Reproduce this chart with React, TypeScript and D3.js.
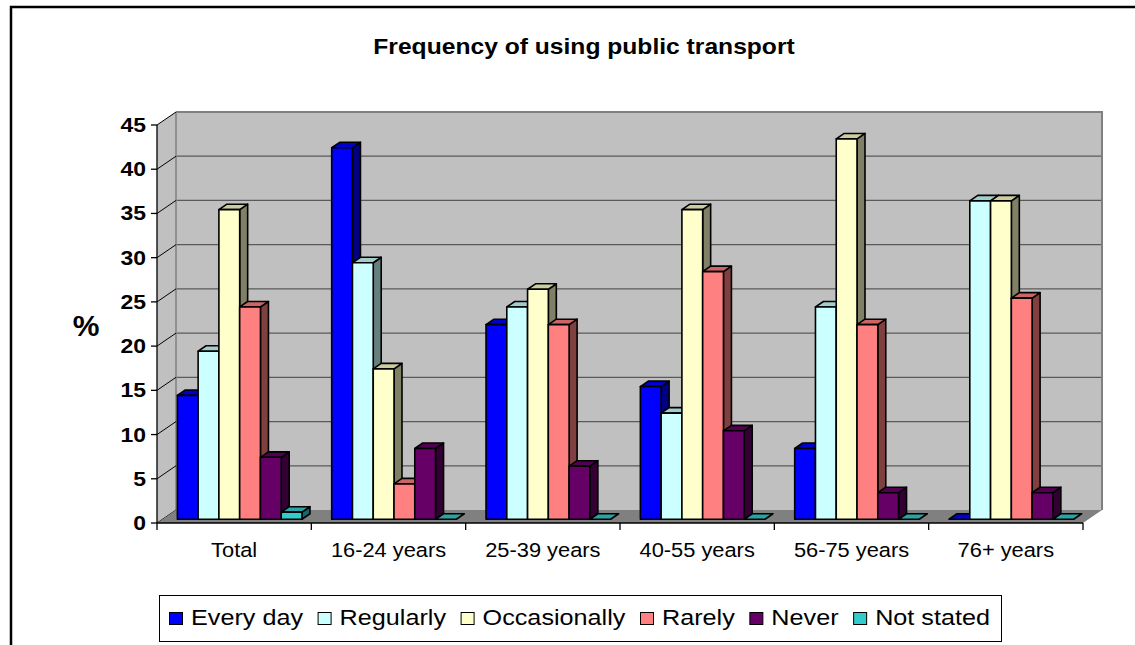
import React from 'react';
import * as d3 from 'd3';

const categories = ['Total', '16-24 years', '25-39 years', '40-55 years', '56-75 years', '76+ years'];
const seriesNames = ['Every day', 'Regularly', 'Occasionally', 'Rarely', 'Never', 'Not stated'];
const everyDay = [14, 42, 22, 15, 8, 0];
const regularly = [19, 29, 24, 12, 24, 36];
const occasionally = [35, 17, 26, 35, 43, 36];
const rarely = [24, 4, 22, 28, 22, 25];
const never = [7, 8, 6, 10, 3, 3];
const notStated = [0.8, 0, 0, 0, 0, 0];
const yTicks = [0, 5, 10, 15, 20, 25, 30, 35, 40, 45];
const title = 'Frequency of using public transport';
const yTitle = '%';

const seriesValues = [everyDay, regularly, occasionally, rarely, never, notStated];
const frontColors = ['#0000FF', '#CCFFFF', '#FFFFCC', '#FF8080', '#660066', '#33CCCC'];
const topColors = ['#0000CC', '#A3CCCC', '#CCCCA3', '#CC6666', '#520052', '#29A3A3'];
const sideColors = ['#000080', '#668080', '#808066', '#804040', '#330033', '#1A6666'];

const FONT = '"Liberation Sans", Arial, Helvetica, sans-serif';
const SX = 1.12;

function measure(text: string, size: number, weight = 'normal') {
  const c = document.createElement('canvas');
  const ctx = c.getContext('2d');
  if (!ctx) return text.length * size * 0.5;
  ctx.font = `${weight} ${size}px ${FONT}`;
  return ctx.measureText(text).width;
}

function SText(props: { x: number; y: number; anchor?: string; size: number; weight?: string; children: string }) {
  const { x, y, anchor = 'start', size, weight = 'normal', children } = props;
  return (
    <text
      transform={`translate(${x},${y}) scale(${SX},1)`}
      textAnchor={anchor}
      fontFamily={FONT}
      fontSize={size}
      fontWeight={weight}
      fill="#000"
    >
      {children}
    </text>
  );
}

export default function App() {
  const W = 1135;
  const H = 645;
  const fx0 = 157;
  const fx1 = 1083;
  const DX = 19;
  const DY = -13;
  // bar depth placement (fraction of full depth)
  const bf0 = 0.29;
  const bf1 = 0.71;

  const y = d3.scaleLinear().domain([0, 45]).range([523, 125]);
  const x = d3.scaleBand<string>().domain(categories).range([fx0, fx1]).paddingInner(0).paddingOuter(0);
  const xs = d3.scaleBand<string>().domain(seriesNames).range([0, x.bandwidth()]).paddingInner(0).paddingOuter(0.715);

  const y0 = y(0);
  const yMax = y(45);

  const pts = (arr: number[][]) => arr.map((p) => p.join(',')).join(' ');

  const bars: JSX.Element[] = [];
  categories.forEach((cat, ci) => {
    seriesNames.forEach((s, si) => {
      const v = seriesValues[si][ci];
      const ox = DX * bf0;
      const oy = DY * bf0;
      const ddx = DX * (bf1 - bf0);
      const ddy = DY * (bf1 - bf0);
      const bx = (x(cat) as number) + (xs(s) as number) + ox;
      const w = xs.bandwidth();
      const yb = y0 + oy;
      const yt = y(v) + oy;
      const key = `${ci}-${si}`;
      bars.push(
        <g key={key} stroke="#000" strokeWidth={1.6} strokeLinejoin="round">
          {v > 0 && (
            <polygon
              points={pts([[bx + w, yt], [bx + w + ddx, yt + ddy], [bx + w + ddx, yb + ddy], [bx + w, yb]])}
              fill={sideColors[si]}
            />
          )}
          <polygon
            points={pts([[bx, yt], [bx + w, yt], [bx + w + ddx, yt + ddy], [bx + ddx, yt + ddy]])}
            fill={topColors[si]}
          />
          {v > 0 && <rect x={bx} y={yt} width={w} height={yb - yt} fill={frontColors[si]} />}
        </g>
      );
    });
  });

  // legend layout
  const legSize = 22.5;
  const swW = 13;
  const swH = 12;
  const legStart = 169;
  const legEnd = 990;
  const tw = seriesNames.map((n) => measure(n, legSize) * SX);
  const swGap = 9;
  const total = tw.reduce((a, b) => a + b, 0) + seriesNames.length * (swW + swGap);
  const itemGap = (legEnd - legStart - total) / (seriesNames.length - 1);
  let cx = legStart;
  const legendItems = seriesNames.map((n, i) => {
    const sx = cx;
    cx += swW + swGap + tw[i] + itemGap;
    return (
      <g key={n}>
        <rect x={sx + 0.5} y={612.5} width={swW} height={swH} fill={frontColors[i]} stroke="#000" strokeWidth={1} />
        <SText x={sx + swW + swGap} y={624.5} size={legSize}>
          {n}
        </SText>
      </g>
    );
  });

  return (
    <svg
      width={W}
      height={H}
      style={{ position: 'absolute', left: 0, top: 0, background: '#fff' }}
    >
      <rect x={0} y={0} width={W} height={H} fill="#fff" />
      {/* back wall */}
      <polygon
        points={pts([[fx0 + DX, yMax + DY], [fx1 + DX, yMax + DY], [fx1 + DX, y0 + DY], [fx0 + DX, y0 + DY]])}
        fill="#C0C0C0"
      />
      {/* left wall */}
      <polygon
        points={pts([[fx0, yMax], [fx0 + DX, yMax + DY], [fx0 + DX, y0 + DY], [fx0, y0]])}
        fill="#C0C0C0"
      />
      {/* grid lines on back wall */}
      {yTicks.filter((t) => t > 0).map((t) => (
        <line
          key={`g${t}`}
          x1={fx0 + DX}
          x2={fx1 + DX}
          y1={y(t) + DY}
          y2={y(t) + DY}
          stroke="#5A5A5A"
          strokeWidth={1.3}
        />
      ))}
      {/* wall edges */}
      <polyline
        points={pts([[fx0 + DX, yMax + DY], [fx1 + DX, yMax + DY], [fx1 + DX, y0 + DY]])}
        fill="none"
        stroke="#808080"
        strokeWidth={2}
      />
      <line x1={fx0 + DX} x2={fx0 + DX} y1={yMax + DY} y2={y0 + DY} stroke="#808080" strokeWidth={1.5} />
      {/* diagonal grid on left wall */}
      {yTicks.map((t) => (
        <line key={`d${t}`} x1={fx0} y1={y(t)} x2={fx0 + DX} y2={y(t) + DY} stroke="#000" strokeWidth={1} />
      ))}
      {/* floor */}
      <polygon
        points={pts([[fx0, y0], [fx1, y0], [fx1 + DX, y0 + DY], [fx0 + DX, y0 + DY]])}
        fill="#808080"
      />
      {bars}
      {/* axes */}
      <line x1={fx0} x2={fx0} y1={yMax} y2={y0} stroke="#000" strokeWidth={1.3} />
      {yTicks.map((t) => (
        <g key={`t${t}`}>
          <line x1={fx0 - 6} x2={fx0} y1={y(t)} y2={y(t)} stroke="#000" strokeWidth={1.3} />
          <SText x={146} y={y(t) + 7} anchor="end" size={20.5} weight="bold">
            {String(t)}
          </SText>
        </g>
      ))}
      <line x1={fx0} x2={fx1} y1={y0} y2={y0} stroke="#000" strokeWidth={1.3} />
      {[...categories.map((c) => x(c) as number), fx1].map((px, i) => (
        <line key={`xt${i}`} x1={px} x2={px} y1={y0} y2={y0 + 7} stroke="#000" strokeWidth={1.3} />
      ))}
      {categories.map((c) => (
        <SText key={`xl${c}`} x={(x(c) as number) + x.bandwidth() / 2} y={557} anchor="middle" size={19.5}>
          {c}
        </SText>
      ))}
      {/* titles */}
      <SText x={584} y={53.5} anchor="middle" size={22} weight="bold">
        {title}
      </SText>
      <text x={86} y={336} textAnchor="middle" fontFamily={FONT} fontSize={30} fontWeight="bold" fill="#000">
        {yTitle}
      </text>
      {/* legend */}
      <rect x={159.5} y={595.5} width={842} height={46} fill="#fff" stroke="#000" strokeWidth={1} />
      {legendItems}
      {/* outer border */}
      <polyline points={pts([[11, H + 5], [11, 7], [W + 5, 7]])} fill="none" stroke="#000" strokeWidth={2.5} />
    </svg>
  );
}
